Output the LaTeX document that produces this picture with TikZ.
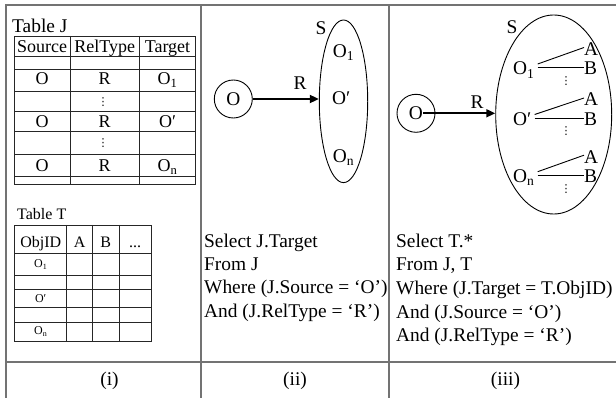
\documentclass[tikz,border=0pt]{standalone}
\usepackage{fontspec}
\setmainfont{Liberation Serif}
\newfontfamily\symfont{DejaVu Sans}
\usetikzlibrary{arrows.meta,shapes.geometric}
\begin{document}
\begin{tikzpicture}[x=1pt,y=-1pt,
  frame/.style={line width=1.3pt, black!55},
  tbl/.style={line width=0.9pt, black!85},
  big/.style={inner sep=0pt, font=\fontsize{19.4}{23}\selectfont},
  tj/.style={inner sep=0pt, font=\fontsize{18}{20}\selectfont},
  tt/.style={inner sep=0pt, font=\fontsize{16}{18}\selectfont},
  ts/.style={inner sep=0pt, font=\fontsize{12}{14}\selectfont},
  dotsn/.style={inner sep=0pt, font=\symfont\fontsize{11}{12}\selectfont},
  lbl/.style={inner sep=0pt, font=\fontsize{19.4}{23}\selectfont, text height=13pt, text depth=0pt},
  rel/.style={line width=1.8pt, -{Triangle[length=9pt,width=8pt]}},
  setn/.style={draw, ellipse, inner sep=0pt, line width=0.9pt},
  obj/.style={draw, circle, inner sep=0pt, line width=0.9pt, minimum size=38pt, font=\fontsize{19.4}{23}\selectfont},
  attr/.style={line width=0.9pt},
  ]
\useasboundingbox (0,0) rectangle (616,398);
\fill[white] (0,0) rectangle (616,398);

% frame
\draw[frame] (6,398) -- (6,5) -- (616,5);
\draw[frame] (201,5) -- (201,398);
\draw[frame] (389,5) -- (389,398);
\draw[frame] (6,362) -- (616,362);

% ---------- panel (i): Table J ----------
\node[big, anchor=base west] (tjt) at (12,33) {Table J};
\draw[tbl] (14,36) rectangle (195.5,184.3);
\foreach \y in {56.7,69.3,91,111,131,154,176.7} \draw[tbl] (14,\y) -- (195.5,\y);
\foreach \x in {70,139.5} \draw[tbl] (\x,36) -- (\x,184.3);
\node[tj, anchor=base] (hs) at (42,52.7) {Source};
\node[tj, anchor=base] (hr) at (104.7,52.7) {RelType};
\node[tj, anchor=base] (ht) at (167.5,52.7) {Target};
\node[tj, anchor=base] (s1) at (42,85) {O};
\node[tj, anchor=base] (r1) at (104.7,85) {R};
\node[tj, anchor=base] (t1) at (167.5,85) {O\textsubscript{1}};
\node[dotsn] (d1) at (103,102) {⋮};
\node[tj, anchor=base] (s2) at (42,127.3) {O};
\node[tj, anchor=base] (r2) at (104.7,127.3) {R};
\node[tj, anchor=base] (t2) at (167.5,127.3) {O′};
\node[dotsn] (d2) at (103,143.5) {⋮};
\node[tj, anchor=base] (s3) at (42,171.7) {O};
\node[tj, anchor=base] (r3) at (104.7,171.7) {R};
\node[tj, anchor=base] (t3) at (167.5,171.7) {O\textsubscript{n}};

% ---------- panel (i): Table T ----------
\node[tt, anchor=base west] (ttt) at (17,219.5) {Table T};
\draw[tbl] (14.7,225) rectangle (151,341.7);
\foreach \y in {253.3,275,289.3,307.3,322.3} \draw[tbl] (14.7,\y) -- (151,\y);
\foreach \x in {66.7,92.7,119} \draw[tbl] (\x,225) -- (\x,341.7);
\node[tt, anchor=base] (ho) at (40.7,247.5) {ObjID};
\node[tt, anchor=base] (ha) at (79.7,247.5) {A};
\node[tt, anchor=base] (hb) at (105.8,247.5) {B};
\node[tt, anchor=base] (hd) at (135,247.5) {...};
\node[ts, anchor=base] (o1) at (40.7,268) {O\textsubscript{1}};
\node[ts, anchor=base] (o2) at (40.7,302) {O′};
\node[ts, anchor=base] (o3) at (40.7,334.5) {O\textsubscript{n}};

% ---------- panel (ii) ----------
\node[obj] (O2) at (233.3,99) {O};
\node[setn, minimum width=48.4pt, minimum height=162.6pt] (S2) at (343.5,101.3) {};
\draw[rel] (O2.east) -- (O2.east -| S2.west);
\node[big] (R2) at (300,83.3) {R};
\node[big] (S2l) at (321,28.5) {S};
\node[big, anchor=base west] (e21) at (332.7,57.3) {O\textsubscript{1}};
\node[big, anchor=base west] (e22) at (332,105) {O′};
\node[big, anchor=base west] (e23) at (332.7,162.7) {O\textsubscript{n}};

\node[big, anchor=base west] (q1) at (204,247.3) {Select J.Target};
\node[big, anchor=base west] (q2) at (204,270.7) {From J};
\node[big, anchor=base west] (q3) at (204,294) {Where (J.Source = ‘O’)};
\node[big, anchor=base west] (q4) at (204,317.3) {And (J.RelType = ‘R’)};

% ---------- panel (iii) ----------
\node[obj] (O3) at (416,113.3) {};
\node[big] (O3t) at (O3) {O};
\node[setn, minimum width=116pt, minimum height=199pt] (S3) at (553.7,114.5) {};
\draw[rel] (O3t.east) -- (O3t.east -| S3.west);
\node[big] (R3) at (477,101.7) {R};
\node[big] (S3l) at (512,27.5) {S};

\foreach \i/\b/\t in {1/75/O\textsubscript{1}, 2/125.5/O′, 3/182.7/O\textsubscript{n}} {
  \node[lbl, anchor=base west] (g\i) at (513,\b) {\t};
  \node[lbl, anchor=base west] (a\i) at (584,\b-19.5) {A};
  \node[lbl, anchor=base west] (b\i) at (584,\b) {B};
  \draw[attr] ([xshift=3pt,yshift=4.5pt]g\i.east) -- ([yshift=1.5pt]a\i.west);
  \draw[attr] ([xshift=3pt,yshift=0.8pt]g\i.east) -- ([yshift=0.8pt]b\i.west);
  \node[dotsn] (v\i) at (566,\b+6) {⋮};
}

\node[big, anchor=base west] (p1) at (396,247.3) {Select T.*};
\node[big, anchor=base west] (p2) at (396,271) {From J, T};
\node[big, anchor=base west] (p3) at (396,294.5) {Where (J.Target = T.ObjID)};
\node[big, anchor=base west] (p4) at (396,318) {And (J.Source = ‘O’)};
\node[big, anchor=base west] (p5) at (396,341.5) {And (J.RelType = ‘R’)};

% ---------- labels ----------
\node[big, anchor=base] (li) at (109.5,385) {(i)};
\node[big, anchor=base] (lii) at (295,385) {(ii)};
\node[big, anchor=base] (liii) at (505.5,385) {(iii)};
\end{tikzpicture}
\end{document}
